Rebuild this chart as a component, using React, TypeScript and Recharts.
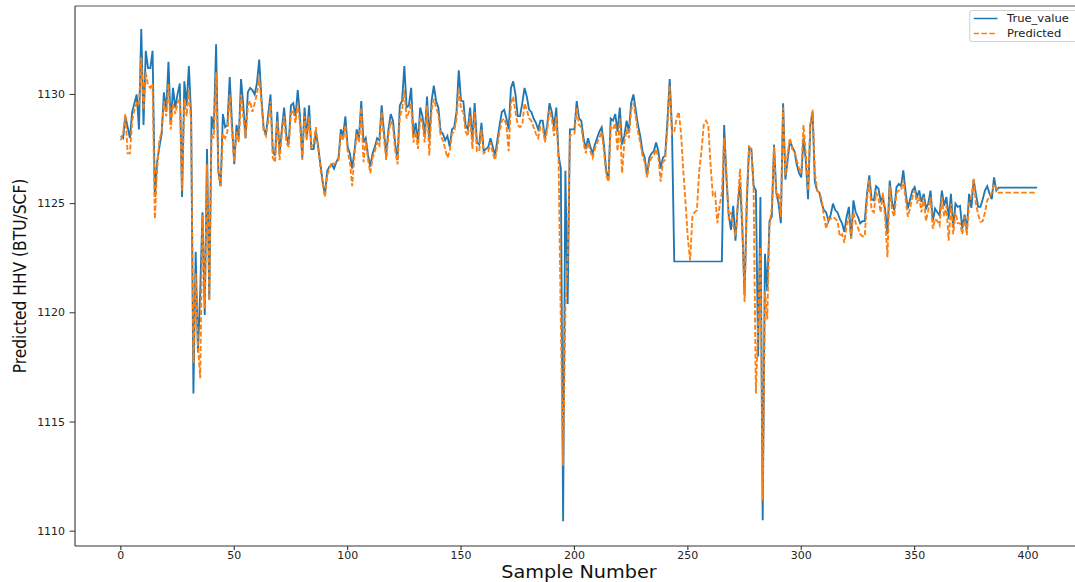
import React from 'react';
import { LineChart, Line, XAxis, YAxis, Legend, ReferenceLine } from 'recharts';

// Horizontal stretch applied to the whole figure (width of the output vs. drawing width)
const STRETCH = 1.1;
const INNER_W = 990;
const HEIGHT = 582;
const FONT = '"DejaVu Sans", Verdana, sans-serif';
const BLUE = '#1f77b4';
const ORANGE = '#ff7f0e';

const sampleTicks = [0, 50, 100, 150, 200, 250, 300, 350, 400];
const hhvTicks = [1110, 1115, 1120, 1125, 1130];
const sampleDomain: [number, number] = [-20.2, 424.2];
const hhvDomain: [number, number] = [1109.32, 1134.05];

const seriesNames = ['True_value', 'Predicted'];

// Measured HHV, samples 0..404
const trueValue = [
  1128.1, 1128.0, 1129.0, 1128.5, 1128.0, 1129.2, 1129.6, 1130.0, 1128.4, 1133.0,
  1128.6, 1132.0, 1131.2, 1131.2, 1132.0, 1125.3, 1126.9, 1127.6, 1128.2, 1130.1,
  1129.2, 1131.5, 1128.6, 1130.3, 1129.4, 1130.0, 1130.5, 1125.3, 1130.6, 1129.5,
  1131.3, 1129.0, 1116.3, 1122.8, 1118.2, 1121.0, 1124.6, 1119.9, 1127.5, 1120.6,
  1129.0, 1128.4, 1132.3, 1126.5, 1125.8, 1129.1, 1128.5, 1128.6, 1130.8, 1128.7,
  1126.8, 1128.6, 1128.0, 1130.7, 1129.5, 1128.0, 1130.1, 1130.3, 1130.2, 1130.0,
  1130.5, 1131.6, 1129.8, 1128.4, 1128.2, 1129.1, 1130.0, 1127.4, 1127.2, 1129.2,
  1127.3, 1128.4, 1129.4, 1128.1, 1127.7, 1129.5, 1129.6, 1129.0, 1130.2, 1129.0,
  1127.1, 1129.4, 1128.0, 1129.5, 1127.5, 1127.5, 1128.3, 1127.6, 1126.8, 1126.0,
  1125.4, 1126.5, 1126.7, 1126.8, 1126.6, 1126.9, 1127.1, 1128.4, 1128.1, 1129.0,
  1127.6, 1127.3, 1126.6, 1127.4, 1128.4, 1128.0, 1129.7, 1127.8, 1128.0, 1127.2,
  1126.7, 1127.3, 1127.6, 1128.0, 1127.9, 1129.5, 1128.3, 1127.2, 1128.4, 1129.1,
  1128.8, 1127.7, 1127.0, 1129.5, 1129.7, 1131.3, 1129.4, 1129.5, 1130.3, 1128.1,
  1128.7, 1127.8, 1129.4, 1129.0, 1128.1, 1129.9, 1127.9, 1129.7, 1130.4, 1129.7,
  1129.4, 1128.3, 1128.2, 1127.9, 1128.1, 1127.6, 1128.4, 1128.5, 1129.2, 1131.1,
  1129.7, 1129.7, 1128.6, 1128.4, 1129.4, 1127.9, 1129.6, 1127.8, 1127.7, 1128.7,
  1127.4, 1127.5, 1127.6, 1128.0, 1127.6, 1127.2, 1127.9, 1128.6, 1129.2, 1129.3,
  1128.9, 1128.4, 1130.3, 1130.6, 1130.0, 1129.0, 1129.0, 1129.6, 1130.3, 1129.9,
  1129.3, 1129.2, 1128.9, 1128.7, 1128.4, 1128.8, 1128.8, 1128.0, 1128.6, 1129.6,
  1129.2, 1128.5, 1129.4, 1127.2, 1126.6, 1110.45, 1126.5, 1120.4, 1128.4, 1128.4,
  1128.4, 1129.7, 1128.9, 1128.8, 1128.0, 1127.5, 1128.0, 1127.6, 1127.3, 1127.7,
  1128.0, 1128.3, 1128.5, 1127.7, 1126.5, 1126.1, 1128.9, 1128.8, 1129.1, 1128.3,
  1129.4, 1127.7, 1128.1, 1128.8, 1128.3, 1129.6, 1130.0, 1129.3, 1128.6, 1128.1,
  1127.4, 1127.1, 1126.3, 1127.1, 1127.3, 1127.4, 1127.8, 1127.4, 1126.6, 1127.1,
  1127.2, 1128.8, 1130.7, 1128.4, 1122.35, 1122.35, 1122.35, 1122.35, 1122.35, 1122.35,
  1122.35, 1122.35, 1122.35, 1122.35, 1122.35, 1122.35, 1122.35, 1122.35, 1122.35, 1122.35,
  1122.35, 1122.35, 1122.35, 1122.35, 1122.35, 1122.35, 1128.6, 1126.2, 1124.5, 1123.8,
  1124.9, 1123.3, 1124.9, 1126.0, 1123.9, 1120.8, 1125.0, 1127.6, 1127.5, 1125.8,
  1125.6, 1118.0, 1125.3, 1110.5, 1122.7, 1121.0, 1124.2, 1124.4, 1127.7, 1125.5,
  1125.0, 1124.1, 1129.6, 1126.1, 1127.0, 1127.9, 1127.6, 1127.4, 1126.8, 1126.4,
  1126.2, 1128.0, 1127.0, 1125.2, 1128.6, 1129.2, 1126.0, 1125.6, 1125.5, 1125.0,
  1124.7, 1124.6, 1124.2, 1124.5, 1125.0, 1124.7, 1124.6, 1124.3, 1124.1, 1123.7,
  1124.4, 1124.85, 1123.4, 1125.15, 1124.6, 1124.4, 1124.1, 1124.2, 1124.2, 1125.45,
  1126.3, 1125.2, 1125.15, 1125.8, 1125.7, 1125.15, 1125.3, 1124.7, 1123.6, 1126.06,
  1125.07, 1124.7, 1125.76, 1125.9, 1125.8, 1126.52, 1125.53, 1124.77, 1125.2, 1125.6,
  1125.76, 1125.3, 1125.6, 1125.07, 1125.45, 1124.77, 1125.0, 1125.6, 1124.2, 1124.77,
  1124.6, 1124.46, 1125.6, 1124.9, 1125.3, 1124.3, 1125.45, 1123.9, 1125.0, 1124.85,
  1124.9, 1123.85, 1124.5, 1123.8, 1125.45, 1124.8, 1126.1, 1125.45, 1124.85, 1124.85,
  1125.2, 1125.6, 1125.8, 1125.45, 1125.2, 1126.2, 1125.6, 1125.73, 1125.73, 1125.73,
  1125.73, 1125.73, 1125.73, 1125.73, 1125.73, 1125.73, 1125.73, 1125.73, 1125.73, 1125.73,
  1125.73, 1125.73, 1125.73, 1125.73, 1125.73,
];

// Model output, samples 0..404
const predicted = [
  1127.9, 1128.2, 1129.1, 1127.3, 1127.3, 1128.8, 1129.3, 1129.6, 1129.5, 1131.7,
  1129.3, 1131.0, 1130.4, 1130.3, 1130.5, 1124.3, 1126.6, 1127.9, 1128.3, 1129.7,
  1129.0, 1130.5, 1128.4, 1129.6, 1129.1, 1129.6, 1129.8, 1125.6, 1129.8, 1129.0,
  1130.2, 1128.7, 1117.7, 1121.8, 1118.5, 1117.0, 1124.5, 1120.2, 1126.8, 1120.6,
  1128.2, 1128.0, 1131.0, 1126.4, 1125.8, 1128.2, 1128.0, 1128.3, 1130.0, 1128.3,
  1126.9, 1128.3, 1127.8, 1130.0, 1129.0, 1128.0, 1129.5, 1129.7, 1129.2, 1129.6,
  1130.0, 1130.8, 1129.6, 1128.3, 1128.1, 1128.8, 1129.7, 1127.1, 1126.9, 1128.8,
  1127.0, 1128.2, 1129.0, 1127.8, 1127.6, 1129.1, 1129.3, 1128.7, 1129.6, 1128.6,
  1127.0, 1129.0, 1127.9, 1129.0, 1127.6, 1127.8, 1128.5, 1127.6, 1126.6, 1125.9,
  1125.3, 1126.3, 1126.6, 1126.9, 1126.8, 1126.9, 1127.0, 1128.2, 1127.9, 1128.6,
  1127.4, 1126.9, 1125.8, 1127.2, 1128.2, 1127.8, 1129.4, 1126.9, 1127.9, 1127.0,
  1126.4, 1127.1, 1127.4, 1127.8, 1127.6, 1129.2, 1128.0, 1127.0, 1128.2, 1128.8,
  1128.5, 1127.4, 1126.8, 1129.0, 1129.3, 1130.2, 1128.9, 1129.2, 1129.6, 1127.8,
  1128.3, 1127.5, 1129.0, 1128.7, 1127.8, 1129.5, 1127.2, 1129.3, 1129.8, 1129.4,
  1129.1, 1128.1, 1127.9, 1127.5, 1127.1, 1127.4, 1128.2, 1128.3, 1128.9, 1130.3,
  1129.3, 1129.2, 1128.3, 1128.1, 1129.0, 1127.5, 1129.2, 1127.4, 1127.4, 1128.4,
  1127.3, 1127.4, 1127.4, 1127.8, 1127.3, 1127.0, 1127.6, 1128.3, 1128.8, 1128.9,
  1128.6, 1127.4, 1129.6, 1129.9, 1129.2, 1128.6, 1128.5, 1128.6, 1129.6, 1129.3,
  1128.9, 1128.8, 1128.5, 1128.2, 1128.0, 1128.5, 1128.5, 1127.8, 1128.4, 1129.3,
  1128.9, 1128.1, 1129.0, 1127.0, 1119.5, 1113.0, 1120.2, 1122.5, 1128.1, 1128.2,
  1128.2, 1129.4, 1128.6, 1128.5, 1127.8, 1127.3, 1127.8, 1127.4, 1127.1, 1127.5,
  1127.8, 1128.0, 1128.3, 1127.4, 1126.3, 1126.0, 1128.5, 1128.4, 1128.7, 1127.4,
  1128.9, 1126.4, 1127.8, 1128.4, 1128.0, 1129.3, 1129.6, 1129.0, 1128.3, 1127.8,
  1127.2, 1126.9, 1126.2, 1126.9, 1127.1, 1127.2, 1127.5, 1127.1, 1126.0, 1126.9,
  1127.0, 1128.5, 1130.4, 1128.2, 1128.3, 1128.9, 1129.2, 1128.2, 1126.5, 1125.0,
  1123.4, 1122.4, 1124.4, 1124.6, 1124.7, 1126.5, 1127.4, 1128.6, 1128.8, 1128.6,
  1126.8, 1125.4, 1125.5, 1124.1, 1124.9, 1125.5, 1128.0, 1126.5, 1124.3, 1124.6,
  1124.0, 1123.5, 1125.0, 1126.6, 1124.2, 1120.5, 1125.5, 1127.6, 1127.5, 1125.6,
  1116.3, 1119.5, 1123.0, 1111.4, 1121.0, 1119.7, 1124.0, 1124.8, 1127.6, 1125.3,
  1125.5, 1124.4, 1129.4, 1126.3, 1127.3, 1128.0, 1127.5, 1127.4, 1127.0, 1126.6,
  1126.4, 1128.6, 1127.3, 1125.6, 1128.6, 1129.3, 1126.4, 1125.6, 1125.5, 1125.2,
  1124.4, 1123.85, 1124.3, 1124.3, 1124.4, 1124.3, 1124.2, 1123.5, 1123.6, 1123.2,
  1124.0, 1124.4, 1123.4, 1124.6, 1124.1, 1123.9, 1123.6, 1123.5, 1123.5, 1125.2,
  1126.1, 1124.7, 1124.6, 1125.5, 1125.3, 1124.6, 1125.5, 1124.3, 1122.55, 1125.8,
  1124.7, 1124.4, 1125.5, 1125.6, 1125.6, 1126.1, 1125.2, 1124.4, 1124.8, 1125.3,
  1125.6, 1125.0, 1125.3, 1124.6, 1125.3, 1124.2, 1124.7, 1125.3, 1123.85, 1124.3,
  1124.2, 1124.0, 1125.3, 1124.4, 1124.9, 1123.3, 1125.0, 1123.6, 1124.6, 1124.1,
  1124.1, 1123.6, 1124.4, 1123.55, 1125.0, 1125.3, 1126.15, 1125.0, 1124.5, 1124.16,
  1124.2, 1124.6, 1125.15, 1125.3, 1125.5, 1125.9, 1125.7, 1125.5, 1125.5, 1125.5,
  1125.5, 1125.5, 1125.5, 1125.5, 1125.5, 1125.5, 1125.5, 1125.5, 1125.5, 1125.5,
  1125.5, 1125.5, 1125.5, 1125.5, 1125.5,
];

const rows = trueValue.map((v, i) => ({ sample: i, trueValue: v, predicted: predicted[i] }));

const tickStyle = { fontSize: 10, fill: '#222', fontFamily: FONT };

function XTitle(props: any) {
  const vb = props.viewBox || { x: 68.2, y: 546, width: 916.3, height: 36 };
  const cx = vb.x + vb.width / 2;
  return (
    <text x={cx} y={578} textAnchor="middle" fontSize={17.5} fill="#111" fontFamily={FONT}>
      Sample Number
    </text>
  );
}

function YTitle(props: any) {
  const vb = props.viewBox || { x: 0, y: 6, width: 68.2, height: 540 };
  const cx = 18.2;
  const cy = vb.y + vb.height / 2;
  return (
    <text
      x={cx}
      y={cy}
      transform={`rotate(-90 ${cx} ${cy})`}
      textAnchor="middle"
      dominantBaseline="central"
      fontSize={15.5}
      fill="#111"
      fontFamily={FONT}
    >
      Predicted HHV (BTU/SCF)
    </text>
  );
}

function LegendBox() {
  const colors = [BLUE, ORANGE];
  return (
    <div
      style={{
        border: '1px solid #d4d4d4',
        borderRadius: 3,
        background: 'rgba(255,255,255,0.85)',
        padding: '0px 14px 0px 2.5px',
        fontFamily: FONT,
        fontSize: 10.5,
        color: '#222',
        lineHeight: '15px',
        whiteSpace: 'nowrap',
      }}
    >
      {seriesNames.map((name, i) => (
        <div key={name} style={{ display: 'flex', alignItems: 'center', height: 15 }}>
          <svg width={22} height={15} style={{ display: 'block' }}>
            <line
              x1={0}
              y1={7.5}
              x2={22}
              y2={7.5}
              stroke={colors[i]}
              strokeWidth={1.7}
              strokeDasharray={i === 1 ? '5 2.2' : undefined}
            />
          </svg>
          <span style={{ marginLeft: 9 }}>{name}</span>
        </div>
      ))}
    </div>
  );
}

export default function App() {
  return (
    <div
      style={{
        position: 'fixed',
        left: 0,
        top: 0,
        width: 1075,
        height: HEIGHT,
        overflow: 'hidden',
        background: '#fff',
      }}
    >
      <div style={{ width: INNER_W, height: HEIGHT, transform: `scaleX(${STRETCH})`, transformOrigin: '0 0' }}>
        <LineChart
          width={INNER_W}
          height={HEIGHT}
          data={rows}
          margin={{ top: 6, right: 5.5, bottom: 0, left: 0 }}
        >
          <XAxis
            dataKey="sample"
            type="number"
            domain={sampleDomain}
            allowDataOverflow
            ticks={sampleTicks}
            interval={0}
            height={36}
            tickSize={4}
            tickMargin={2}
            tick={tickStyle}
            stroke="#333"
            label={<XTitle />}
          />
          <YAxis
            type="number"
            domain={hhvDomain}
            allowDataOverflow
            ticks={hhvTicks}
            interval={0}
            width={68.2}
            tickSize={5}
            tickMargin={4}
            tick={tickStyle}
            stroke="#333"
            label={<YTitle />}
          />
          {/* top spine of the axes frame */}
          <ReferenceLine y={hhvDomain[1]} stroke="#555" strokeWidth={1.2} ifOverflow="visible" />
          <Legend
            layout="vertical"
            align="center"
            verticalAlign="middle"
            wrapperStyle={{ left: 881, top: 10, width: 'auto', height: 'auto' }}
            content={() => <LegendBox />}
          />
          <Line
            type="linear"
            dataKey="trueValue"
            name={seriesNames[0]}
            stroke={BLUE}
            strokeWidth={1.7}
            dot={false}
            activeDot={false}
            isAnimationActive={false}
          />
          <Line
            type="linear"
            dataKey="predicted"
            name={seriesNames[1]}
            stroke={ORANGE}
            strokeWidth={1.7}
            strokeDasharray="5 2.2"
            dot={false}
            activeDot={false}
            isAnimationActive={false}
          />
        </LineChart>
      </div>
    </div>
  );
}
